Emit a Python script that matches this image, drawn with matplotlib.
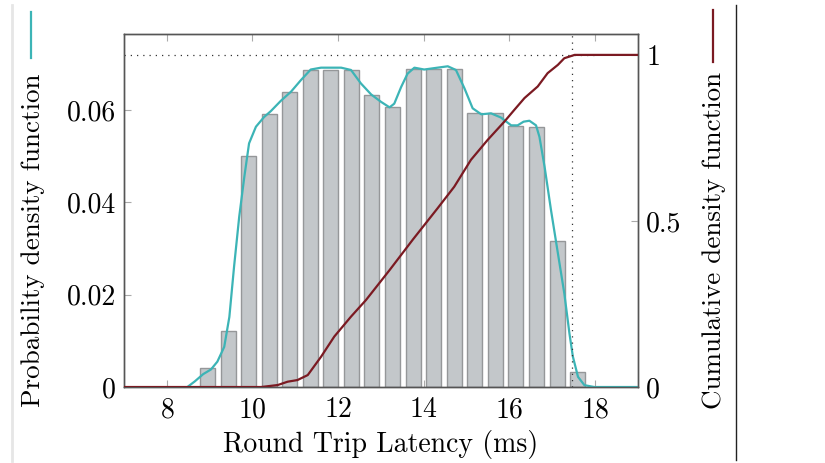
import numpy as np
import matplotlib
matplotlib.use("Agg")
import matplotlib.pyplot as plt
from matplotlib.lines import Line2D

plt.rcParams['font.family'] = 'cmr10'
plt.rcParams['axes.formatter.use_mathtext'] = True
plt.rcParams['mathtext.fontset'] = 'cm'

# histogram (bin centres in ms, density)
bin_centers = [8.95, 9.43, 9.91, 10.39, 10.87, 11.35, 11.83, 12.31, 12.79, 13.27,
               13.75, 14.23, 14.71, 15.19, 15.67, 16.15, 16.63, 17.11, 17.59]
bin_heights = [0.0041, 0.0122, 0.0500, 0.0591, 0.0640, 0.0687, 0.0688, 0.0687, 0.0633, 0.0607,
               0.0689, 0.0689, 0.0689, 0.0594, 0.0593, 0.0566, 0.0563, 0.0316, 0.0033]

# kernel density estimate (teal)
kde_x = [8.48, 8.65, 8.85, 9.03, 9.18, 9.34, 9.46, 9.57, 9.69, 9.81, 9.92, 10.08, 10.27, 10.43,
         10.66, 10.9, 11.13, 11.36, 11.6, 12.07, 12.3, 12.53, 12.77, 13.0, 13.2, 13.31, 13.47,
         13.62, 13.78, 14.01, 14.32, 14.56, 14.75, 14.95, 15.14, 15.34, 15.57, 15.8, 16.04,
         16.19, 16.33, 16.465, 16.62, 16.70, 16.82, 16.97, 17.13, 17.28, 17.40, 17.48, 17.60,
         17.75, 17.98, 19.0]
kde_y = [0.0, 0.0012, 0.0028, 0.0038, 0.0055, 0.0087, 0.0152, 0.0261, 0.0369, 0.0456, 0.0528,
         0.0564, 0.0585, 0.0598, 0.0620, 0.0640, 0.0665, 0.0688, 0.0692, 0.0692, 0.0687, 0.0658,
         0.0634, 0.0618, 0.0606, 0.0614, 0.0650, 0.0679, 0.0692, 0.0688, 0.0692, 0.0695, 0.0687,
         0.0647, 0.0604, 0.0591, 0.0593, 0.0584, 0.0567, 0.0567, 0.0575, 0.0577, 0.0567, 0.0542,
         0.0477, 0.0383, 0.0290, 0.0203, 0.0116, 0.0066, 0.0022, 0.0004, 0.0, 0.0]

# cumulative distribution (dark red)
cdf_x = [7.0, 10.2, 10.59, 10.82, 11.05, 11.29, 11.6, 11.91, 12.3, 12.65, 13.2, 13.75, 14.32,
         14.71, 15.1, 15.49, 15.88, 16.11, 16.35, 16.66, 16.89, 17.13, 17.28, 17.52, 19.0]
cdf_y = [0.0, 0.0, 0.006, 0.016, 0.021, 0.036, 0.091, 0.152, 0.212, 0.262, 0.352, 0.445, 0.538,
         0.603, 0.684, 0.744, 0.799, 0.834, 0.870, 0.905, 0.945, 0.970, 0.990, 1.0, 1.0]

p_cutoff = 17.46

teal = '#3cb4b6'
darkred = '#7b1a22'

fig = plt.figure(figsize=(8.25, 4.63), dpi=100)
ax = fig.add_axes([0.1503, 0.1641, 0.6230, 0.7625])
ax2 = ax.twinx()

ax.bar(bin_centers, bin_heights, width=0.35, color='#c3c7ca', edgecolor='#959799',
       linewidth=1.0, zorder=2)
ax.plot(kde_x, kde_y, color=teal, linewidth=1.6, zorder=3)
ax.set_xlim(7, 19)
ax.set_ylim(0, 0.0765)
ax.set_xticks([8, 10, 12, 14, 16, 18])
ax.set_yticks([0, 0.02, 0.04, 0.06])
ax.set_yticklabels(['0', '0.02', '0.04', '0.06'])
ax.set_xlabel('Round Trip Latency (ms)', fontsize=20, labelpad=5)

ax2.plot(cdf_x, cdf_y, color=darkred, linewidth=1.6, zorder=4)
ax2.plot([7, 18.1], [1, 1], color='#333333', linestyle=(0, (1, 4)), linewidth=0.9)
ax2.axvline(p_cutoff, color='#333333', linestyle=(0, (1, 4)), linewidth=0.9)
ax2.set_ylim(0, 1.063)
ax2.set_yticks([0, 0.5, 1])
ax2.set_yticklabels(['0', '0.5', '1'])

for a in (ax, ax2):
    for s in a.spines.values():
        s.set_color('#555555')
        s.set_linewidth(1.0)
ax.tick_params(axis='both', direction='in', length=5, color='#aaaaaa', labelsize=20,
               top=True, pad=6)
ax.tick_params(axis='x', pad=7)
ax2.tick_params(axis='y', direction='in', length=5, color='#aaaaaa', labelsize=20, pad=6)

# axis labels with legend line segments
fig.text(0.040, 0.4806, 'Probability density function', rotation=90, fontsize=19.5,
         ha='center', va='center')
fig.add_artist(Line2D([0.0375, 0.0375], [0.8747, 0.974], color=teal, linewidth=1.6))
fig.text(0.866, 0.4806, 'Cumulative density function', rotation=90, fontsize=19.5,
         ha='center', va='center')
fig.add_artist(Line2D([0.864, 0.864], [0.866, 0.978], color=darkred, linewidth=1.6))

# frame lines around the picture
fig.add_artist(Line2D([0.0145, 0.0145], [0.005, 0.99], color='#e6e6e6', linewidth=2))
fig.add_artist(Line2D([0.892, 0.892], [0.006, 0.99], color='#222222', linewidth=1.0))

fig.savefig('out.png', dpi=100)
